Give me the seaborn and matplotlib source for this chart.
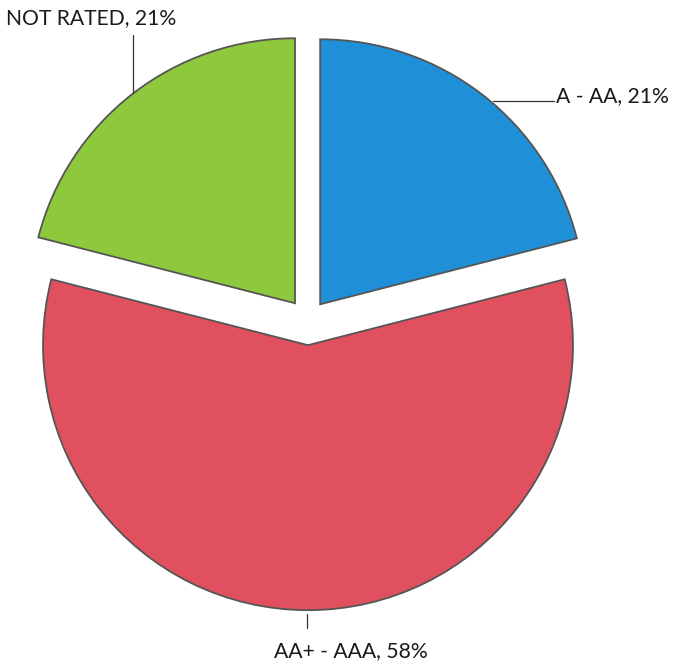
import matplotlib
matplotlib.use("Agg")
import matplotlib.pyplot as plt
import seaborn as sns

# data
labels = ["A - AA", "AA+ - AAA", "NOT RATED"]
shares = [21, 58, 21]
colors = ["#1F90D8", "#E0505E", "#8DC83D"]
explode = [0.075, 0.095, 0.08]

sns.set_theme(style="white")
plt.rcParams['font.family'] = ['Lato', 'DejaVu Sans']

W, H = 675, 663
fig = plt.figure(figsize=(W / 100, H / 100), dpi=100)
ax = fig.add_axes([0, 0, 1, 1])

# pixel frame: pie centre at (308, 320), radius 265 px
cx, cy, r = 308, 320, 265


def px(x, y):
    return (x - cx) / r, (cy - y) / r


ax.pie(
    shares,
    colors=colors,
    explode=explode,
    startangle=90,
    counterclock=False,
    radius=1.0,
    center=(0, 0),
    wedgeprops=dict(edgecolor="#555555", linewidth=1.3),
    frame=True,
)
ax.set_xlim(-cx / r, (W - cx) / r)
ax.set_ylim(-(H - cy) / r, cy / r)
ax.set_aspect('equal')
ax.axis('off')

# labels with leader lines
txt = dict(fontsize=15.2, color="#1a1a1a")
ax.plot(*zip(px(493, 101), px(554, 101)), color="#333333", lw=0.9)
ax.text(*px(556, 96), f"{labels[0]}, {shares[0]}%", ha="left", va="center", **txt)

ax.plot(*zip(px(307, 614), px(307, 628)), color="#333333", lw=0.9)
ax.text(*px(351, 651), f"{labels[1]}, {shares[1]}%", ha="center", va="center", **txt)

ax.plot(*zip(px(133, 35), px(133, 93)), color="#333333", lw=0.9)
ax.text(*px(91, 18), f"{labels[2]}, {shares[2]}%", ha="center", va="center", **txt)

fig.savefig("out.png", dpi=100)
